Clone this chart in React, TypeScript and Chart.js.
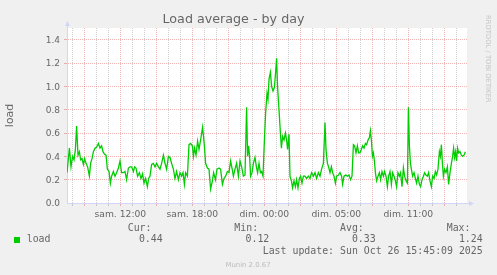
import React, { useEffect, useRef } from 'react';
import { Chart, registerables } from 'chart.js';

Chart.register(...registerables);

// ---- data (minutes since the left edge of the window, 5‑min munin samples)
const sampleMinutes = [
  0, 12, 20, 28, 35, 42, 48, 55, 62, 68, 75, 82, 88, 95, 103, 112, 118, 125, 132, 140,
  148, 157, 165, 173, 180, 187, 195, 202, 210, 217, 223, 232, 240, 248, 257, 265, 273, 282, 290, 298,
  307, 315, 323, 332, 338, 345, 353, 362, 370, 378, 385, 393, 402, 408, 415, 423, 432, 440, 448, 457,
  465, 473, 482, 490, 498, 507, 515, 523, 532, 540, 548, 557, 565, 573, 580, 587, 593, 602, 610, 618,
  627, 632, 638, 645, 653, 660, 668, 678, 687, 693, 702, 710, 718, 727, 733, 742, 750, 760, 768, 777,
  785, 793, 802, 810, 818, 825, 832, 840, 848, 857, 865, 873, 882, 890, 898, 903, 908, 913, 918, 925,
  932, 940, 947, 953, 960, 967, 973, 980, 987, 993, 1000, 1005, 1010, 1017, 1023, 1030, 1037, 1043, 1048, 1053,
  1060, 1067, 1072, 1078, 1085, 1092, 1098, 1103, 1110, 1115, 1122, 1128, 1135, 1142, 1148, 1155, 1162, 1168, 1175, 1182,
  1190, 1198, 1207, 1215, 1223, 1232, 1240, 1248, 1257, 1265, 1273, 1282, 1290, 1295, 1302, 1308, 1315, 1322, 1328, 1335,
  1342, 1348, 1357, 1365, 1373, 1378, 1385, 1393, 1402, 1410, 1418, 1425, 1432, 1438, 1445, 1452, 1458, 1465, 1472, 1478,
  1485, 1492, 1498, 1505, 1512, 1517, 1522, 1527, 1532, 1537, 1542, 1548, 1555, 1562, 1568, 1575, 1582, 1588, 1595, 1602,
  1608, 1615, 1622, 1628, 1635, 1642, 1648, 1655, 1662, 1668, 1675, 1682, 1688, 1695, 1702, 1707, 1712, 1717, 1722, 1728,
  1735, 1742, 1748, 1755, 1762, 1768, 1775, 1782, 1788, 1795, 1802, 1808, 1815, 1822, 1828, 1835, 1842, 1848, 1855, 1862,
  1867, 1872, 1877, 1882, 1888, 1895, 1902, 1908, 1915, 1922, 1928, 1933, 1938, 1943, 1948, 1953, 1958, 1965, 1972, 1978,
  1985, 1992,
];

const loadValues = [
  0.26, 0.47, 0.31, 0.40, 0.37, 0.46, 0.66, 0.41, 0.44, 0.37, 0.38, 0.33, 0.38, 0.34, 0.31, 0.23, 0.34, 0.38, 0.44, 0.47,
  0.48, 0.51, 0.47, 0.49, 0.44, 0.42, 0.41, 0.29, 0.27, 0.17, 0.23, 0.27, 0.23, 0.26, 0.30, 0.36, 0.26, 0.26, 0.27, 0.20,
  0.30, 0.31, 0.31, 0.27, 0.31, 0.30, 0.23, 0.26, 0.21, 0.25, 0.17, 0.21, 0.14, 0.21, 0.23, 0.33, 0.34, 0.31, 0.34, 0.31,
  0.29, 0.34, 0.41, 0.34, 0.29, 0.40, 0.39, 0.34, 0.29, 0.21, 0.27, 0.20, 0.26, 0.23, 0.26, 0.16, 0.26, 0.23, 0.50, 0.51,
  0.49, 0.40, 0.47, 0.41, 0.53, 0.46, 0.54, 0.65, 0.49, 0.34, 0.30, 0.29, 0.12, 0.19, 0.26, 0.20, 0.29, 0.30, 0.29, 0.16,
  0.21, 0.23, 0.27, 0.26, 0.36, 0.30, 0.23, 0.29, 0.34, 0.23, 0.36, 0.31, 0.23, 0.24, 0.82, 0.40, 0.49, 0.40, 0.23, 0.26,
  0.34, 0.39, 0.31, 0.26, 0.34, 0.26, 0.27, 0.23, 0.54, 0.77, 0.94, 0.89, 1.06, 1.12, 1.00, 0.96, 0.99, 1.12, 1.24, 0.99,
  0.80, 0.60, 0.47, 0.57, 0.54, 0.60, 0.54, 0.46, 0.59, 0.23, 0.19, 0.13, 0.19, 0.14, 0.20, 0.13, 0.21, 0.23, 0.17, 0.23,
  0.23, 0.21, 0.23, 0.21, 0.26, 0.23, 0.26, 0.21, 0.26, 0.23, 0.29, 0.34, 0.69, 0.46, 0.34, 0.31, 0.26, 0.31, 0.26, 0.23,
  0.17, 0.23, 0.24, 0.26, 0.23, 0.16, 0.23, 0.24, 0.23, 0.24, 0.20, 0.23, 0.50, 0.49, 0.43, 0.49, 0.43, 0.43, 0.46, 0.49,
  0.47, 0.51, 0.50, 0.54, 0.56, 0.62, 0.54, 0.40, 0.43, 0.36, 0.26, 0.19, 0.23, 0.26, 0.20, 0.27, 0.23, 0.27, 0.23, 0.14,
  0.23, 0.27, 0.16, 0.26, 0.23, 0.19, 0.14, 0.26, 0.23, 0.26, 0.14, 0.30, 0.23, 0.19, 0.17, 0.82, 0.49, 0.34, 0.29, 0.23,
  0.26, 0.21, 0.17, 0.23, 0.16, 0.14, 0.20, 0.23, 0.26, 0.24, 0.23, 0.26, 0.19, 0.14, 0.23, 0.21, 0.27, 0.24, 0.29, 0.44,
  0.40, 0.50, 0.34, 0.23, 0.29, 0.26, 0.31, 0.16, 0.26, 0.34, 0.40, 0.47, 0.39, 0.44, 0.36, 0.47, 0.43, 0.44, 0.41, 0.40,
  0.41, 0.44,
];

const windowMinutes = 2000; // 33h20 shown
const firstHourOffset = 80 / 3; // window starts at 07:33:20, first full hour 08:00
const xTickLabels = ['sam. 12:00', 'sam. 18:00', 'dim. 00:00', 'dim. 05:00', 'dim. 11:00'];
const yMax = 1.5;
const yStep = 0.1;

const titleText = 'Load average - by day';
const yAxisTitle = 'load';
const seriesName = 'load';
const statLabels = ['Cur:', 'Min:', 'Avg:', 'Max:'];
const statValues = ['0.44', '0.12', '0.33', '1.24'];
const lastUpdate = 'Last update: Sun Oct 26 15:45:09 2025';
const footerText = 'Munin 2.0.67';
const watermark = 'RRDTOOL / TOBI OETIKER';

// ---- styles
const LINE = '#00cc00';
const GRID = 'rgba(143,143,143,0.42)';
const MGRID = 'rgba(222,79,79,0.42)';
const AXIS = '#CFD6F8';
const FONT = '#666666';
const SANS = '"DejaVu Sans", sans-serif';
const MONO = '"DejaVu Sans Mono", monospace';

const hourTicks: number[] = [];
for (let k = 0; firstHourOffset + 60 * k <= windowMinutes; k++) hourTicks.push(firstHourOffset + 60 * k);
const yTickValues: number[] = [];
for (let i = 0; i * yStep <= yMax + 1e-9; i++) yTickValues.push(Math.round(i * yStep * 10) / 10);

const muninPlugin = {
  id: 'muninDecor',
  beforeDraw(chart: any) {
    const { ctx, chartArea: a, width, height } = chart;
    ctx.save();
    ctx.fillStyle = '#F0F0F0';
    ctx.fillRect(0, 0, width, height);
    ctx.fillStyle = '#FFFFFF';
    ctx.fillRect(a.left, a.top, a.right - a.left, a.bottom - a.top);
    ctx.restore();
  },
  afterDraw(chart: any) {
    const { ctx, chartArea: a } = chart;
    ctx.save();
    // axis extensions + arrows
    ctx.strokeStyle = AXIS;
    ctx.fillStyle = AXIS;
    ctx.lineWidth = 1;
    ctx.beginPath();
    ctx.moveTo(a.left + 0.5, a.top + 1);
    ctx.lineTo(a.left + 0.5, a.top - 3);
    ctx.moveTo(a.right - 1, a.bottom + 0.5);
    ctx.lineTo(a.right + 3, a.bottom + 0.5);
    ctx.stroke();
    ctx.beginPath();
    ctx.moveTo(a.left + 0.5, a.top - 7);
    ctx.lineTo(a.left - 2, a.top - 2);
    ctx.lineTo(a.left + 3, a.top - 2);
    ctx.closePath();
    ctx.fill();
    ctx.beginPath();
    ctx.moveTo(a.right + 7, a.bottom + 0.5);
    ctx.lineTo(a.right + 2, a.bottom - 2);
    ctx.lineTo(a.right + 2, a.bottom + 3);
    ctx.closePath();
    ctx.fill();

    // legend
    ctx.fillStyle = LINE;
    ctx.fillRect(14, 237, 6, 6);
    ctx.fillStyle = FONT;
    ctx.font = `9.9px ${MONO}`;
    ctx.textBaseline = 'alphabetic';
    ctx.textAlign = 'left';
    ctx.fillText(seriesName, 26.7, 242.3);
    const labelX = [127.7, 234.3, 340, 446.7];
    const valueX = [162.7, 269.3, 375.7, 482.7];
    statLabels.forEach((s, i) => ctx.fillText(s, labelX[i], 231));
    ctx.textAlign = 'right';
    statValues.forEach((s, i) => ctx.fillText(s, valueX[i], 242.3));
    ctx.fillText(lastUpdate, 482.7, 253.7);

    // footer
    ctx.textAlign = 'center';
    ctx.fillStyle = '#BBBBBB';
    ctx.font = `6.9px ${SANS}`;
    ctx.fillText(footerText, 248, 267);

    // watermark
    ctx.translate(485.5, 15);
    ctx.rotate(Math.PI / 2);
    ctx.textAlign = 'left';
    ctx.textBaseline = 'alphabetic';
    ctx.fillStyle = '#C4C4C4';
    ctx.font = `6.8px ${SANS}`;
    ctx.fillText(watermark, 0, 0);
    ctx.restore();
  },
};

export default function App() {
  const canvasRef = useRef<HTMLCanvasElement | null>(null);

  useEffect(() => {
    document.body.style.margin = '0';
    const canvas = canvasRef.current;
    if (!canvas) return;
    const points = sampleMinutes.map((m, i) => ({ x: m, y: loadValues[i] }));

    const chart = new Chart(canvas, {
      type: 'line',
      data: {
        datasets: [
          {
            label: seriesName,
            data: points,
            borderColor: LINE,
            borderWidth: 1.3,
            pointRadius: 0,
            tension: 0,
            fill: false,
          },
        ],
      },
      options: {
        responsive: false,
        animation: false,
        devicePixelRatio: 1,
        events: [],
        layout: { padding: { left: 0, right: 30, top: 0, bottom: 0 } },
        plugins: {
          legend: { display: false },
          tooltip: { enabled: false },
          title: {
            display: true,
            text: titleText,
            color: FONT,
            font: { family: SANS, size: 12.7, weight: 'normal' },
            padding: { top: 12, bottom: 0.76 },
          },
        },
        scales: {
          x: {
            type: 'linear',
            min: 0,
            max: windowMinutes,
            afterBuildTicks: (axis: any) => {
              axis.ticks = hourTicks.map((v) => ({ value: v }));
            },
            afterFit: (axis: any) => {
              axis.height = 72;
            },
            grid: {
              color: (c: any) => (c.index % 3 === 1 ? MGRID : GRID),
              lineWidth: 1,
              drawTicks: true,
              tickLength: 3,
            },
            border: { display: true, color: AXIS, width: 1, dash: [1, 1] },
            ticks: {
              autoSkip: false,
              maxRotation: 0,
              minRotation: 0,
              padding: 3,
              color: FONT,
              font: { family: SANS, size: 9.2 },
              callback: (_v: any, i: number) => (i % 6 === 4 ? xTickLabels[(i - 4) / 6] ?? '' : ''),
            },
          },
          y: {
            type: 'linear',
            min: 0,
            max: yMax,
            afterBuildTicks: (axis: any) => {
              axis.ticks = yTickValues.map((v) => ({ value: v }));
            },
            afterFit: (axis: any) => {
              axis.width = 67;
            },
            grid: {
              color: (c: any) => {
                const v = Math.round((c.tick?.value ?? 0) * 10);
                if (v === 0) return 'rgba(0,0,0,0)';
                return v % 2 === 0 ? MGRID : GRID;
              },
              lineWidth: 1,
              drawTicks: true,
              tickLength: 3,
            },
            border: { display: true, color: AXIS, width: 1, dash: [1, 1] },
            title: {
              display: true,
              text: yAxisTitle,
              color: FONT,
              font: { family: SANS, size: 10.9 },
              padding: { top: 4, bottom: 0 },
            },
            ticks: {
              padding: 4,
              labelOffset: 1,
              color: FONT,
              font: { family: SANS, size: 9 },
              callback: (v: any) => {
                const n = Math.round(Number(v) * 10);
                return n % 2 === 0 ? (n / 10).toFixed(1) : '';
              },
            },
          },
        },
      },
      plugins: [muninPlugin],
    } as any);

    return () => chart.destroy();
  }, []);

  return (
    <div style={{ position: 'absolute', left: 0, top: 0, width: 497, height: 275, background: '#F0F0F0' }}>
      <canvas ref={canvasRef} width={497} height={275} style={{ display: 'block', width: 497, height: 275 }} />
    </div>
  );
}
